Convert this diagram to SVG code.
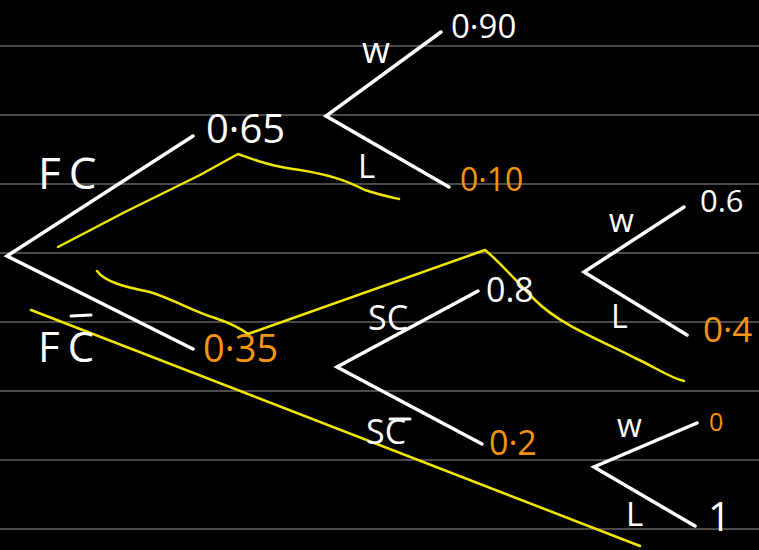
<svg xmlns="http://www.w3.org/2000/svg" width="759" height="550" viewBox="0 0 759 550">
<style>
.rule{stroke:#4a4a4a;stroke-width:2}
.br{stroke:#fff;stroke-width:3.5;stroke-linecap:round;fill:none}
.hl{stroke:#f2e600;stroke-width:2.5;stroke-linecap:round;stroke-linejoin:round;fill:none}
.t{font-family:"Open Sans","Liberation Sans",sans-serif;font-size:36px;fill:#fff}
.o{fill:#f5940f}
.ov{stroke:#fff;stroke-width:3;stroke-linecap:round}
</style>
<rect width="759" height="550" fill="#000"/>
<g id="rules">
<line class="rule" x1="0" y1="46" x2="759" y2="46"/>
<line class="rule" x1="0" y1="115" x2="759" y2="115"/>
<line class="rule" x1="0" y1="184" x2="759" y2="184"/>
<line class="rule" x1="0" y1="253" x2="759" y2="253"/>
<line class="rule" x1="0" y1="322" x2="759" y2="322"/>
<line class="rule" x1="0" y1="391" x2="759" y2="391"/>
<line class="rule" x1="0" y1="460" x2="759" y2="460"/>
<line class="rule" x1="0" y1="529" x2="759" y2="529"/>
</g>
<g id="connectors">
<polyline class="br" points="193,136 7,256 193,349"/>
<polyline class="br" points="441,32 326,116 449,187"/>
<polyline class="br" points="478,291 337,367 482,444"/>
<polyline class="br" points="684,207 584,272 687,335"/>
<polyline class="br" points="697,423 594,467 695,526"/>
</g>
<g id="highlights">
<path class="hl" d="M58,247 L125,212 L200,175 L238,154 C255,160 270,166 300,170 C330,175 345,180 365,190 C380,195 390,197 399,199"/>
<path class="hl" d="M97,271 C105,282 125,287 150,292 C175,300 195,312 215,318 C230,323 240,328 248,334 L485,250 C500,262 515,280 535,300 C560,325 600,340 635,358 C655,367 670,378 684,381"/>
<path class="hl" d="M31,310 L640,546"/>
</g>
<g id="root-FC">
<text class="t" x="38" y="189" style="font-size:44px;letter-spacing:8px">FC</text>
</g>
<g id="root-FCbar">
<text class="t" x="38" y="362" style="font-size:42px;letter-spacing:8px">FC</text>
<line class="ov" x1="71" y1="316" x2="91" y2="315"/>
</g>
<g id="n065"><text class="t" x="206" y="143" style="font-size:40px">0·65</text></g>
<g id="n035"><text class="t o" x="203" y="362" style="font-size:38px">0·35</text></g>
<g id="W1"><text class="t" x="362" y="63">w</text></g>
<g id="L1"><text class="t" x="358" y="178" style="font-size:33px">L</text></g>
<g id="n090"><text class="t" x="451" y="38" style="font-size:33px">0·90</text></g>
<g id="n010"><text class="t o" x="460" y="191" style="font-size:32px">0·10</text></g>
<g id="SC"><text class="t" x="368" y="330" style="font-size:34px">SC</text></g>
<g id="SCbar"><text class="t" x="366" y="444" style="font-size:34px">SC</text><line class="ov" x1="390" y1="419" x2="410" y2="419"/></g>
<g id="n08"><text class="t" x="486" y="302" style="font-size:34px">0.8</text></g>
<g id="n02"><text class="t o" x="489" y="455" style="font-size:34px">0·2</text></g>
<g id="W2"><text class="t" x="609" y="232" style="font-size:32px">w</text></g>
<g id="L2"><text class="t" x="611" y="328" style="font-size:32px">L</text></g>
<g id="n06"><text class="t" x="700" y="212" style="font-size:31px">0.6</text></g>
<g id="n04"><text class="t o" x="703" y="342" style="font-size:35px">0·4</text></g>
<g id="W3"><text class="t" x="617" y="437" style="font-size:32px">w</text></g>
<g id="L3"><text class="t" x="626" y="526" style="font-size:33px">L</text></g>
<g id="n0"><text class="t o" x="709" y="431" style="font-size:25px">0</text></g>
<g id="n1"><text class="t" x="708" y="531" style="font-size:40px">1</text></g>
</svg>
